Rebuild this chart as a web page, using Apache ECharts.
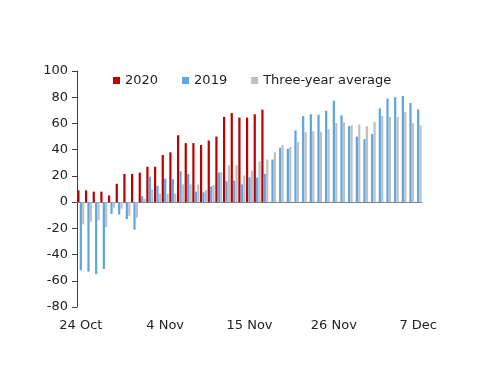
<!DOCTYPE html>
<html>
<head>
<meta charset="utf-8">
<script src="https://cdn.jsdelivr.net/npm/echarts@6/dist/echarts.min.js"></script>
<style>
html,body{margin:0;padding:0;background:#fff;}
#chart{width:500px;height:386px;}
</style>
</head>
<body>
<div id="chart"></div>
<script>
var categories = [
  "24 Oct","25 Oct","26 Oct","27 Oct","28 Oct","29 Oct","30 Oct","31 Oct",
  "1 Nov","2 Nov","3 Nov","4 Nov","5 Nov","6 Nov","7 Nov","8 Nov","9 Nov","10 Nov",
  "11 Nov","12 Nov","13 Nov","14 Nov","15 Nov","16 Nov","17 Nov","18 Nov","19 Nov",
  "20 Nov","21 Nov","22 Nov","23 Nov","24 Nov","25 Nov","26 Nov","27 Nov","28 Nov",
  "29 Nov","30 Nov","1 Dec","2 Dec","3 Dec","4 Dec","5 Dec","6 Dec","7 Dec"
];
var series2020 = [
  9, 9, 8, 8, 5, 14, 21.5, 21.5, 22.5, 27, 27, 36, 38, 51, 45, 45, 43.5, 47, 50,
  65, 68, 64.5, 64.5, 67, 70.5,
  null, null, null, null, null, null, null, null, null, null, null, null, null,
  null, null, null, null, null, null, null
];
var series2019 = [
  -52, -53, -55, -51, -9, -9.5, -13, -21, 4.5, 19.5, 12.5, 18, 17.5, 23.5, 21.5,
  8, 7.5, 12, 22.5, 16, 16.5, 13.5, 19, 18.8, 21.5, 32.5, 41.5, 40.7, 54.7, 65.6,
  67, 66.7, 69.7, 77.4, 66.2, 58, 50, 48, 52, 71.5, 79, 80, 81, 75.6, 70.7
];
var seriesAvg = [
  -17, -15, -14, -19, -4.3, -5, -10.4, -12, 2.5, 9.7, 6.6, 6.4, 6.6, 13.5, 13.5,
  13.5, 9.2, 13, 23, 28, 28, 20.4, 24, 31, 32.5, 38, 43.5, 42, 46, 53.4,
  54.2, 53.7, 55.7, 60.3, 61, 58.5, 59.3, 58, 61.3, 65.6, 65, 65, 68.7, 60.3, 58.5
];
var yTicks = [-80, 100, 20];
var seriesNames = ["2020", "2019", "Three-year average"];
var colors = ["#C00000", "#5CA6E4", "#C0C0C0"];

var chart = echarts.init(document.getElementById('chart'), null, {renderer: 'canvas'});
var font = "DejaVu Sans";
var barCommon = {
  type: 'bar',
  barGap: '8%',
  barCategoryGap: '8%',
  xAxisIndex: 0,
  yAxisIndex: 0
};
chart.setOption({
  animation: false,
  backgroundColor: '#fff',
  color: colors,
  grid: {left: 77, right: 78, top: 71, bottom: 79, containLabel: false},
  legend: {
    left: 108,
    top: 69,
    itemWidth: 7,
    itemHeight: 7,
    itemGap: 24,
    icon: 'rect',
    textStyle: {fontFamily: font, fontSize: 13, color: '#222'},
    data: seriesNames
  },
  xAxis: [
    {
      type: 'category',
      data: categories,
      position: 'bottom',
      axisLine: {show: false, onZero: false},
      axisTick: {show: false},
      axisLabel: {interval: 10, fontFamily: font, fontSize: 13, color: '#222', margin: 12},
      splitLine: {show: false}
    },
    {
      type: 'category',
      data: categories,
      axisLine: {show: true, onZero: true, lineStyle: {color: '#808080', width: 1}},
      axisTick: {show: false},
      axisLabel: {show: false},
      splitLine: {show: false}
    }
  ],
  yAxis: {
    type: 'value',
    min: yTicks[0],
    max: yTicks[1],
    interval: yTicks[2],
    axisLine: {show: true, lineStyle: {color: '#404040', width: 1}},
    axisTick: {show: true, inside: false, length: 5, lineStyle: {color: '#404040'}},
    axisLabel: {fontFamily: font, fontSize: 13, color: '#222', margin: 9},
    splitLine: {show: false}
  },
  series: [
    Object.assign({name: seriesNames[0], data: series2020, itemStyle: {color: colors[0]}}, barCommon),
    Object.assign({name: seriesNames[1], data: series2019, itemStyle: {color: colors[1]}}, barCommon),
    Object.assign({name: seriesNames[2], data: seriesAvg, itemStyle: {color: colors[2]}}, barCommon)
  ]
});
</script>
</body>
</html>
